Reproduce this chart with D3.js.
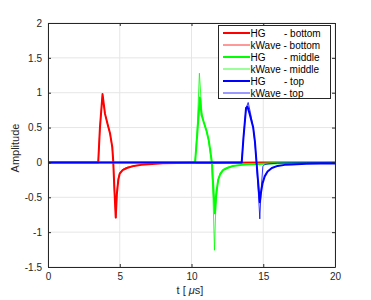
<!DOCTYPE html>
<html><head><meta charset="utf-8">
<script src="https://cdn.jsdelivr.net/npm/d3@7"></script>
<style>body{margin:0;background:#fff}svg{display:block}text{font-family:"Liberation Sans",Arial,sans-serif}</style>
</head><body><svg id="c" width="371" height="300"></svg>
<script>
// ---- data (t in microseconds, amplitude) ----
const xTicks = [0, 5, 10, 15, 20];
const yTicks = [-1.5, -1, -0.5, 0, 0.5, 1, 1.5, 2];

const hgBottomT = [0, 3.5, 3.62, 3.8, 3.97, 4.15, 4.32, 4.48, 4.55, 4.63, 4.72, 4.8, 4.9, 5.0, 5.2, 5.5, 6.0, 6.5, 7.0, 8.0, 9.0, 10, 12, 15, 20];
const hgBottomY = [0, 0, 0.5, 0.98, 0.7, 0.55, 0.42, 0.22, 0.0, -0.4, -0.79, -0.45, -0.25, -0.16, -0.11, -0.08, -0.05, -0.035, -0.025, -0.013, -0.008, -0.005, -0.003, -0.002, 0];
const kwBottomT = [0, 3.5, 3.62, 3.8, 3.97, 4.15, 4.32, 4.48, 4.55, 4.63, 4.73, 4.8, 4.9, 5.0, 5.2, 5.5, 6.0, 7.0, 8.0, 10, 15, 20];
const kwBottomY = [0, 0, 0.5, 0.96, 0.7, 0.55, 0.42, 0.2, 0.0, -0.42, -0.8, -0.42, -0.22, -0.15, -0.1, -0.07, -0.045, -0.02, -0.01, -0.004, -0.001, 0];

const hgMiddleT = [0, 10.25, 10.4, 10.58, 10.7, 10.85, 11.05, 11.2, 11.32, 11.42, 11.52, 11.63, 11.72, 11.86, 12.0, 12.2, 12.5, 12.9, 13.5, 14, 15, 16, 17, 18, 20];
const hgMiddleY = [0, 0, 0.4, 0.93, 0.68, 0.58, 0.45, 0.32, 0.15, 0, -0.35, -0.73, -0.45, -0.25, -0.17, -0.11, -0.08, -0.05, -0.035, -0.027, -0.02, -0.012, -0.008, -0.005, -0.003];
const kwMiddleT = [0, 10.25, 10.4, 10.55, 10.72, 10.85, 11.05, 11.2, 11.32, 11.4, 11.5, 11.6, 11.7, 11.85, 12.0, 12.2, 12.5, 13, 14, 15, 17, 20];
const kwMiddleY = [0, 0, 0.5, 1.28, 0.72, 0.58, 0.45, 0.3, 0.12, 0, -0.5, -1.26, -0.6, -0.25, -0.15, -0.1, -0.07, -0.045, -0.025, -0.015, -0.005, 0];

const hgTopT = [0, 13.5, 13.62, 13.8, 13.9, 14.05, 14.3, 14.42, 14.53, 14.65, 14.76, 14.85, 14.95, 15.1, 15.3, 15.6, 16, 16.5, 17, 18, 19, 20];
const hgTopY = [0, 0, 0.35, 0.78, 0.8, 0.7, 0.5, 0.3, 0, -0.3, -0.57, -0.42, -0.3, -0.2, -0.13, -0.08, -0.05, -0.035, -0.028, -0.02, -0.017, -0.015];
const kwTopT = [0, 13.5, 13.62, 13.8, 13.95, 14.1, 14.3, 14.42, 14.53, 14.65, 14.76, 14.85, 14.97, 15.1, 15.4, 16, 17, 18, 20];
const kwTopY = [0, 0, 0.35, 0.78, 0.86, 0.72, 0.5, 0.28, 0, -0.4, -0.81, -0.4, -0.06, -0.03, -0.02, -0.01, -0.005, -0.003, 0];

const seriesNames = ["HG", "kWave", "HG", "kWave", "HG", "kWave"];
const seriesPos = ["- bottom", "- bottom", "- middle", "- middle", "- top", "- top"];
const seriesColors = ["#ff0000", "#ff0000", "#00ff00", "#00ff00", "#0000ff", "#0000ff"];
const seriesWidths = [2, 0.8, 2, 0.8, 2, 0.8];
const seriesT = [hgBottomT, kwBottomT, hgMiddleT, kwMiddleT, hgTopT, kwTopT];
const seriesY = [hgBottomY, kwBottomY, hgMiddleY, kwMiddleY, hgTopY, kwTopY];

// ---- layout ----
const L = 48, R = 335, T = 23, B = 267;
const svg = d3.select("#c");
const x = d3.scaleLinear().domain([0, 20]).range([L, R]);
const y = d3.scaleLinear().domain([-1.5, 2]).range([B, T]);
const axisCol = "#262626";

// grid
const g = svg.append("g");
g.selectAll(".gx").data(xTicks).join("line")
  .attr("x1", d => x(d)).attr("x2", d => x(d)).attr("y1", T).attr("y2", B)
  .attr("stroke", "#e6e6e6").attr("stroke-width", 1);
g.selectAll(".gy").data(yTicks).join("line")
  .attr("y1", d => y(d)).attr("y2", d => y(d)).attr("x1", L).attr("x2", R)
  .attr("stroke", "#e6e6e6").attr("stroke-width", 1);

// lines
const line = d3.line().x(d => x(d[0])).y(d => y(d[1]));
seriesT.forEach((ts, i) => {
  const pts = ts.map((t, j) => [t, seriesY[i][j]]);
  svg.append("path").datum(pts).attr("d", line)
    .attr("fill", "none").attr("stroke", seriesColors[i])
    .attr("stroke-width", seriesWidths[i]).attr("stroke-linejoin", "round");
});

// axes
function styleAxis(sel) {
  sel.selectAll("path").attr("stroke", axisCol);
  sel.selectAll("line").attr("stroke", axisCol);
  sel.selectAll("text").attr("fill", axisCol).style("font-size", "10px")
    .style("font-family", "'Liberation Sans', Arial, sans-serif");
}
svg.append("g").attr("transform", `translate(0,${B})`)
  .call(d3.axisBottom(x).tickValues(xTicks).tickFormat(d3.format("d")).tickSizeInner(-3).tickSizeOuter(0).tickPadding(6))
  .call(styleAxis);
svg.append("g").attr("transform", `translate(0,${T})`)
  .call(d3.axisTop(x).tickValues(xTicks).tickFormat("").tickSizeInner(-3).tickSizeOuter(0))
  .call(styleAxis);
svg.append("g").attr("transform", `translate(${L},0)`)
  .call(d3.axisLeft(y).tickValues(yTicks).tickFormat(d => String(d)).tickSizeInner(-3).tickSizeOuter(0).tickPadding(6))
  .call(styleAxis);
svg.append("g").attr("transform", `translate(${R},0)`)
  .call(d3.axisRight(y).tickValues(yTicks).tickFormat("").tickSizeInner(-3).tickSizeOuter(0))
  .call(styleAxis);

// axis labels
const xl = svg.append("text").attr("x", 190).attr("y", 294).attr("text-anchor", "middle")
  .attr("fill", axisCol).style("font-size", "11px");
xl.append("tspan").text("t [ ");
xl.append("tspan").attr("font-style", "italic").text("μ");
xl.append("tspan").text("s]");
svg.append("text").attr("transform", "translate(19,148) rotate(-90)").attr("text-anchor", "middle")
  .attr("fill", axisCol).style("font-size", "11px").text("Amplitude");

// legend
const lg = svg.append("g");
lg.append("rect").attr("x", 218.5).attr("y", 25.5).attr("width", 112).attr("height", 73)
  .attr("fill", "#fff").attr("stroke", axisCol).attr("stroke-width", 1);
seriesNames.forEach((n, i) => {
  const yy = 33 + i * 12;
  lg.append("line").attr("x1", 223).attr("x2", 250).attr("y1", yy).attr("y2", yy)
    .attr("stroke", seriesColors[i]).attr("stroke-width", seriesWidths[i]);
  const t = lg.append("text").attr("x", 250.5).attr("y", yy + 3.5).attr("fill", "#000").style("font-size", "10px");
  t.append("tspan").text(n);
  t.append("tspan").attr("x", n === "HG" ? 284 : null).text(n === "HG" ? seriesPos[i] : " " + seriesPos[i]);
});
</script></body></html>
